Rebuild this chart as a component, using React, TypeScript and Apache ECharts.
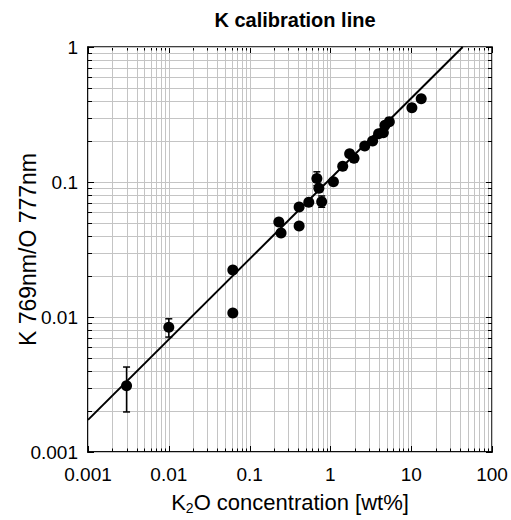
import React, { useEffect, useRef } from "react";
import * as echarts from "echarts";

const xMajor = [0.001, 0.01, 0.1, 1, 10, 100];
const yMajor = [0.001, 0.01, 0.1, 1];
const minorMultipliers = [2, 3, 4, 5, 6, 7, 8, 9];

const k2o = [0.003, 0.01, 0.062, 0.062, 0.23, 0.245, 0.41, 0.41, 0.54, 0.68, 0.72, 0.78, 1.09, 1.42, 1.73, 1.96, 2.66, 3.33, 3.95, 4.52, 4.74, 5.36, 10.2, 13.3];
const ratio = [0.0031, 0.0084, 0.0223, 0.0107, 0.0506, 0.0419, 0.0653, 0.0472, 0.0707, 0.106, 0.0898, 0.0715, 0.1005, 0.131, 0.162, 0.15, 0.185, 0.201, 0.228, 0.232, 0.263, 0.28, 0.355, 0.414];

const errX = [0.003, 0.01, 0.68, 0.78];
const errLow = [0.00198, 0.0071, 0.094, 0.065];
const errHigh = [0.00426, 0.0097, 0.119, 0.0788];

const fitX = [0.001, 43.4];
const fitY = [0.00173, 1];

const FONT = "'Liberation Sans', Arial, sans-serif";

function withMinors(majors: number[]) {
  const out: number[] = [];
  majors.forEach((m, i) => {
    out.push(m);
    if (i < majors.length - 1) minorMultipliers.forEach((k) => out.push(m * k));
  });
  return out;
}

function isMajor(v: number) {
  const l = Math.log10(v);
  return Math.abs(l - Math.round(l)) < 1e-6;
}

export default function App() {
  const ref = useRef<HTMLDivElement>(null);
  useEffect(() => {
    if (!ref.current) return;
    document.body.style.margin = "0";
    document.body.style.overflow = "hidden";
    const chart = echarts.init(ref.current, null, { renderer: "svg" });
    const gridColor = "#c4c4c4";
    const xAll = withMinors(xMajor);
    const yAll = withMinors(yMajor);

    const option: any = {
      animation: false,
      backgroundColor: "#fff",
      title: {
        text: "K calibration line",
        left: 290,
        textAlign: "center",
        top: 5,
        textStyle: { fontFamily: FONT, fontSize: 20, fontWeight: "bold", color: "#000" },
      },
      grid: {
        left: 88,
        right: 19,
        top: 47,
        bottom: 68,
        containLabel: false,
        outerBoundsMode: "none",
        show: true,
        borderColor: "#000",
        borderWidth: 1.5,
        backgroundColor: "transparent",
      },
      xAxis: {
        type: "log",
        logBase: 10,
        min: 0.001,
        max: 100,
        name: "K{sub|2}O concentration [wt%]",
        nameLocation: "middle",
        nameGap: 37,
        nameTextStyle: {
          fontFamily: FONT,
          fontSize: 22,
          color: "#000",
          rich: { sub: { fontFamily: FONT, fontSize: 14, color: "#000", padding: [12, 0, 0, 0] } },
        },
        axisLine: { show: true, lineStyle: { color: "#000", width: 1.5 } },
        axisTick: { show: false },
        splitLine: { show: false },
        minorTick: { show: false },
        axisLabel: {
          fontFamily: FONT,
          fontSize: 19,
          color: "#000",
          margin: 13,
          formatter: (v: number) => String(v),
        },
      },
      yAxis: {
        type: "log",
        logBase: 10,
        min: 0.001,
        max: 1,
        name: "K 769nm/O 777nm",
        nameLocation: "middle",
        nameGap: 49,
        nameMoveOverlap: false,
        nameTextStyle: { fontFamily: FONT, fontSize: 23, color: "#000" },
        axisLine: { show: true, lineStyle: { color: "#000", width: 1.5 } },
        axisTick: { show: false },
        splitLine: { show: false },
        minorTick: { show: false },
        axisLabel: {
          fontFamily: FONT,
          fontSize: 19,
          color: "#000",
          margin: 10,
          formatter: (v: number) => String(v),
        },
      },
      series: [
        {
          type: "custom",
          name: "xgrid",
          z: 1,
          silent: true,
          data: xAll.map((v) => [v, 0.1]),
          encode: { x: 0, y: 1 },
          renderItem: (params: any, api: any) => {
            const v = api.value(0);
            const cs = params.coordSys;
            const px = Math.round(api.coord([v, 0.1])[0]) + 0.5;
            const top = cs.y;
            const bottom = cs.y + cs.height;
            const len = isMajor(v) ? 6 : 3.5;
            return {
              type: "group",
              children: [
                { type: "line", shape: { x1: px, y1: top, x2: px, y2: bottom }, style: { stroke: gridColor, lineWidth: 1 } },
                { type: "line", shape: { x1: px, y1: bottom, x2: px, y2: bottom - len }, style: { stroke: "#000", lineWidth: 1 } },
                { type: "line", shape: { x1: px, y1: top, x2: px, y2: top + len }, style: { stroke: "#000", lineWidth: 1 } },
              ],
            };
          },
        },
        {
          type: "custom",
          name: "ygrid",
          z: 1,
          silent: true,
          data: yAll.map((v) => [1, v]),
          encode: { x: 0, y: 1 },
          renderItem: (params: any, api: any) => {
            const v = api.value(1);
            const cs = params.coordSys;
            const py = Math.round(api.coord([1, v])[1]) + 0.5;
            const left = cs.x;
            const right = cs.x + cs.width;
            const len = isMajor(v) ? 6 : 4;
            return {
              type: "group",
              children: [
                { type: "line", shape: { x1: left, y1: py, x2: right, y2: py }, style: { stroke: gridColor, lineWidth: 1 } },
                { type: "line", shape: { x1: left, y1: py, x2: left + len, y2: py }, style: { stroke: "#000", lineWidth: 1 } },
                { type: "line", shape: { x1: right, y1: py, x2: right - len, y2: py }, style: { stroke: "#000", lineWidth: 1 } },
              ],
            };
          },
        },
        {
          type: "line",
          name: "fit",
          z: 3,
          silent: true,
          symbol: "none",
          data: fitX.map((x, i) => [x, fitY[i]]),
          lineStyle: { color: "#000", width: 2 },
        },
        {
          type: "custom",
          name: "err",
          z: 4,
          silent: true,
          data: errX.map((x, i) => [x, errLow[i], errHigh[i]]),
          encode: { x: 0, y: [1, 2] },
          renderItem: (params: any, api: any) => {
            const p1 = api.coord([api.value(0), api.value(1)]);
            const p2 = api.coord([api.value(0), api.value(2)]);
            const w = 3.5;
            const st = { stroke: "#000", lineWidth: 1.5 };
            return {
              type: "group",
              children: [
                { type: "line", shape: { x1: p1[0], y1: p1[1], x2: p2[0], y2: p2[1] }, style: st },
                { type: "line", shape: { x1: p1[0] - w, y1: p1[1], x2: p1[0] + w, y2: p1[1] }, style: st },
                { type: "line", shape: { x1: p2[0] - w, y1: p2[1], x2: p2[0] + w, y2: p2[1] }, style: st },
              ],
            };
          },
        },
        {
          type: "scatter",
          name: "data",
          z: 5,
          symbol: "circle",
          symbolSize: 11,
          itemStyle: { color: "#000", opacity: 1 },
          data: k2o.map((x, i) => [x, ratio[i]]),
        },
      ],
    };
    chart.setOption(option);
    return () => chart.dispose();
  }, []);
  return <div ref={ref} style={{ position: "absolute", left: 0, top: 0, width: 511, height: 520 }} />;
}
